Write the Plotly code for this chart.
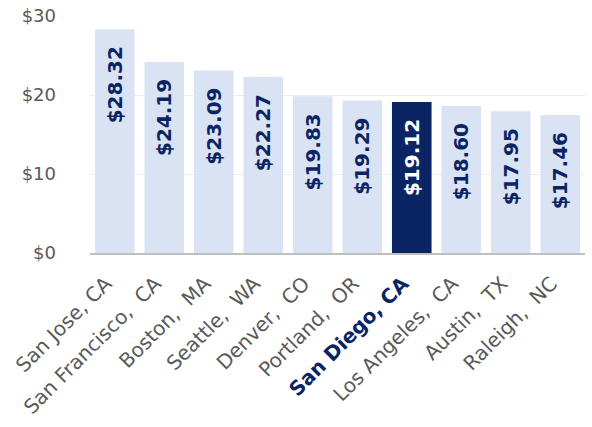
import plotly.graph_objects as go

cities = ["San Jose, CA", "San Francisco, CA", "Boston, MA", "Seattle, WA", "Denver, CO",
          "Portland, OR", "San Diego, CA", "Los Angeles, CA", "Austin, TX", "Raleigh, NC"]
tick_labels = ["San Jose, CA", "San Francisco,\u00a0 CA", "Boston,\u00a0 MA", "Seattle,\u00a0 WA",
               "Denver,\u00a0 CO", "Portland,\u00a0 OR", "<b><span style='color:#0b2463'>San Diego, CA</span></b>",
               "Los Angeles,\u00a0 CA", "Austin,\u00a0 TX", "Raleigh,\u00a0 NC"]
wages = [28.32, 24.19, 23.09, 22.27, 19.83, 19.29, 19.12, 18.60, 17.95, 17.46]
highlight = "San Diego, CA"

navy = "#0b2463"
light = "#dae3f3"
bar_colors = [navy if c == highlight else light for c in cities]
text_colors = ["white" if c == highlight else navy for c in cities]
pad = "\u00a0\u00a0"

fig = go.Figure(
    go.Bar(
        x=cities,
        y=wages,
        marker=dict(color=bar_colors, line=dict(width=0)),
        # trailing nbsp pushes the label down from the bar top
        text=[f"<b>${v:.2f}{pad}</b>" for v in wages],
        textposition="inside",
        insidetextanchor="end",
        textangle=-90,
        constraintext="none",
        textfont=dict(family="DejaVu Sans", size=20, color=text_colors),
        hoverinfo="skip",
    )
)

fig.update_layout(
    width=592,
    height=427,
    margin=dict(l=90, r=7, t=16, b=174),
    plot_bgcolor="white",
    paper_bgcolor="white",
    bargap=0.2,
    showlegend=False,
    font=dict(family="Verdana, DejaVu Sans", color="#595959"),
)
fig.update_xaxes(
    tickmode="array",
    tickvals=cities,
    ticktext=[t + pad for t in tick_labels],
    tickangle=-45,
    tickfont=dict(size=20, color="#595959"),
    showline=True,
    linecolor="#bfbfbf",
    linewidth=2,
    showgrid=False,
    automargin=False,
)
fig.update_yaxes(
    range=[0, 30],
    tickvals=[0, 10, 20, 30],
    ticktext=["$0", "$10", "$20", "$30"],
    tickfont=dict(size=18, color="#595959"),
    ticklabeloverflow="allow",
    showgrid=True,
    gridcolor="#ececec",
    gridwidth=1,
    zeroline=False,
    ticks="",
    ticklabelstandoff=33,
    automargin=False,
)

# drop the default 8px body margin so the figure fills the window exactly
fig.write_html(
    "out.html",
    config={"displayModeBar": False},
    post_script="document.body.style.margin='0';",
)
